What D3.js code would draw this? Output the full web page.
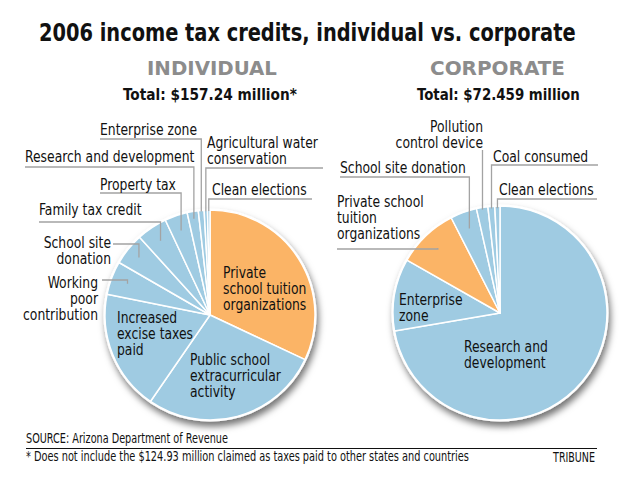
<!DOCTYPE html>
<html>
<head>
<meta charset="utf-8">
<script src="https://cdn.jsdelivr.net/npm/d3@7"></script>
<style>
  body { margin: 0; background: #fff; }
  svg { display: block; }
  text { font-family: "Liberation Sans Narrow", "DejaVu Sans Condensed", sans-serif; }
</style>
</head>
<body>
<script>
// individual credits, millions of dollars
var indivLabels = ["Private school tuition organizations", "Public school extracurricular activity", "Increased excise taxes paid",
  "Working poor contribution", "School site donation", "Family tax credit", "Property tax", "Research and development",
  "Enterprise zone", "Agricultural water conservation", "Clean elections"];
var indivValues = [50.3, 43.4, 29.2, 8.1, 7.8, 7.4, 5.5, 2.7, 1.4, 0.8, 0.6];

// corporate credits, millions of dollars
var corpLabels = ["Research and development", "Enterprise zone", "Private school tuition organizations", "School site donation",
  "Pollution control device", "Coal consumed", "Clean elections"];
var corpValues = [52.4, 7.9, 6.7, 2.9, 1.25, 0.75, 0.56];

var highlight = "Private school tuition organizations";

var W = 639, H = 486;
var blue = "#9fcbe2", orange = "#fbb466", leaderColor = "#a3a3a3";
var labelSqueeze = 0.86;

var svg = d3.select("body").append("svg").attr("width", W).attr("height", H);

var defs = svg.append("defs");
var shadow = defs.append("filter").attr("id", "shadow").attr("x", "-20%").attr("y", "-20%").attr("width", "140%").attr("height", "140%");
shadow.append("feDropShadow").attr("dx", 2).attr("dy", 5).attr("stdDeviation", 3.5).attr("flood-color", "#000").attr("flood-opacity", 0.55);

// single line of text squeezed to the width it has in the print
function fitText(x, y, str, width, size, weight, fill, anchor) {
  var t = svg.append("text").attr("font-size", size).attr("font-weight", weight).attr("fill", fill)
    .attr("text-anchor", anchor || "start").text(str);
  var k = width / t.node().getComputedTextLength();
  t.attr("transform", "translate(" + x + "," + y + ") scale(" + k + ",1)");
  return t;
}

// titles
fitText(39, 41, "2006 income tax credits, individual vs. corporate", 537, 25, "bold", "#111");
fitText(147, 74.5, "INDIVIDUAL", 130, 20, "bold", "#8c8c8c");
fitText(123, 99.5, "Total: $157.24 million*", 174, 16.5, "bold", "#111");
fitText(430, 74.5, "CORPORATE", 135, 20, "bold", "#8c8c8c");
fitText(417, 99.5, "Total: $72.459 million", 163, 16.5, "bold", "#111");

// label layout: lines, text anchor point, leader line (y of the horizontal part, its far end, radius fraction for the tip)
var indivLayout = {
  "Private school tuition organizations": { lines: ["Private", "school tuition", "organizations"], x: 223, y: 278 },
  "Public school extracurricular activity": { lines: ["Public school", "extracurricular", "activity"], x: 190, y: 365 },
  "Increased excise taxes paid": { lines: ["Increased", "excise taxes", "paid"], x: 117, y: 323 },
  "Working poor contribution": { lines: ["Working", "poor", "contribution"], x: 98, y: 288, anchor: "end", ly: 280, lx: 102, f: 0.84 },
  "School site donation": { lines: ["School site", "donation"], x: 111, y: 248, anchor: "end", ly: 244, lx: 113, f: 0.87 },
  "Family tax credit": { lines: ["Family tax credit"], x: 39, y: 215, ly: 222, lx: 39, f: 0.85 },
  "Property tax": { lines: ["Property tax"], x: 100, y: 190, ly: 193, lx: 100, f: 0.85 },
  "Research and development": { lines: ["Research and development"], x: 25, y: 162, ly: 167, lx: 25, f: 0.93 },
  "Enterprise zone": { lines: ["Enterprise zone"], x: 100, y: 135, ly: 139, lx: 100, f: 0.99 },
  "Agricultural water conservation": { lines: ["Agricultural water", "conservation"], x: 207, y: 148, ly: 168, lx: 323, f: 0.99 },
  "Clean elections": { lines: ["Clean elections"], x: 212, y: 195, ly: 199, lx: 312, f: 0.99 }
};
var corpLayout = {
  "Research and development": { lines: ["Research and", "development"], x: 464, y: 352 },
  "Enterprise zone": { lines: ["Enterprise", "zone"], x: 399, y: 305 },
  "Private school tuition organizations": { lines: ["Private school", "tuition", "organizations"], x: 337, y: 207, ly: 249, lx: 337, f: 0.84 },
  "School site donation": { lines: ["School site donation"], x: 340, y: 173, ly: 177, lx: 340, f: 0.84 },
  "Pollution control device": { lines: ["Pollution", "control device"], x: 483, y: 132, anchor: "end", ly: 150, lx: null, f: 0.98 },
  "Coal consumed": { lines: ["Coal consumed"], x: 493, y: 162, ly: 165, lx: 598, f: 0.98 },
  "Clean elections": { lines: ["Clean elections"], x: 499, y: 195, ly: 199, lx: 597, f: 0.98 }
};

function drawPie(labels, values, layout, cx, cy, R) {
  var g = svg.append("g").attr("transform", "translate(" + cx + "," + cy + ")");
  var pie = d3.pie().sort(null).value(function(d){ return d; });
  var arcs = pie(values);
  var arc = d3.arc().innerRadius(0).outerRadius(R);
  var color = d3.scaleOrdinal().domain(labels).range(labels.map(function(l){ return l == highlight ? orange : blue; }));

  var body = g.append("g").attr("filter", "url(#shadow)");
  body.append("circle").attr("r", R + 1.5).attr("fill", "#fff");
  body.selectAll("path").data(arcs).enter().append("path")
    .attr("d", arc)
    .attr("fill", function(d, i){ return color(labels[i]); })
    .attr("stroke", "#fff").attr("stroke-width", 1.5).attr("stroke-linejoin", "round");

  arcs.forEach(function(d, i){
    var L = layout[labels[i]];
    var anchor = L.anchor || "start";
    if (L.ly !== undefined) {
      var mid = (d.startAngle + d.endAngle) / 2;
      var px = Math.sin(mid) * R * L.f, py = -Math.cos(mid) * R * L.f;
      var ly = L.ly - cy;
      var pts = [];
      if (L.lx !== null) pts.push([L.lx - cx, ly]);
      pts.push([px, ly]);
      pts.push([px, py]);
      g.append("path").attr("d", d3.line()(pts)).attr("fill", "none").attr("stroke", leaderColor).attr("stroke-width", 1.3);
    }
    var t = g.append("text").attr("text-anchor", anchor).attr("font-size", 16).attr("fill", "#111")
      .attr("transform", "translate(" + (L.x - cx) + "," + (L.y - cy) + ") scale(" + labelSqueeze + ",1)");
    L.lines.forEach(function(line, j){
      t.append("tspan").attr("x", 0).attr("y", j * 15.8).text(line);
    });
  });
}

drawPie(indivLabels, indivValues, indivLayout, 210, 315, 105);
drawPie(corpLabels, corpValues, corpLayout, 500, 313, 107);

// footer
fitText(26, 443, "SOURCE: Arizona Department of Revenue", 202, 13.5, "normal", "#111");
svg.append("line").attr("x1", 26).attr("x2", 597).attr("y1", 448.5).attr("y2", 448.5).attr("stroke", "#111").attr("stroke-width", 1);
fitText(26, 461, "* Does not include the $124.93 million claimed as taxes paid to other states and countries", 443, 13.5, "normal", "#111");
fitText(595, 462, "TRIBUNE", 42, 13.5, "normal", "#111", "end");
</script>
</body>
</html>
